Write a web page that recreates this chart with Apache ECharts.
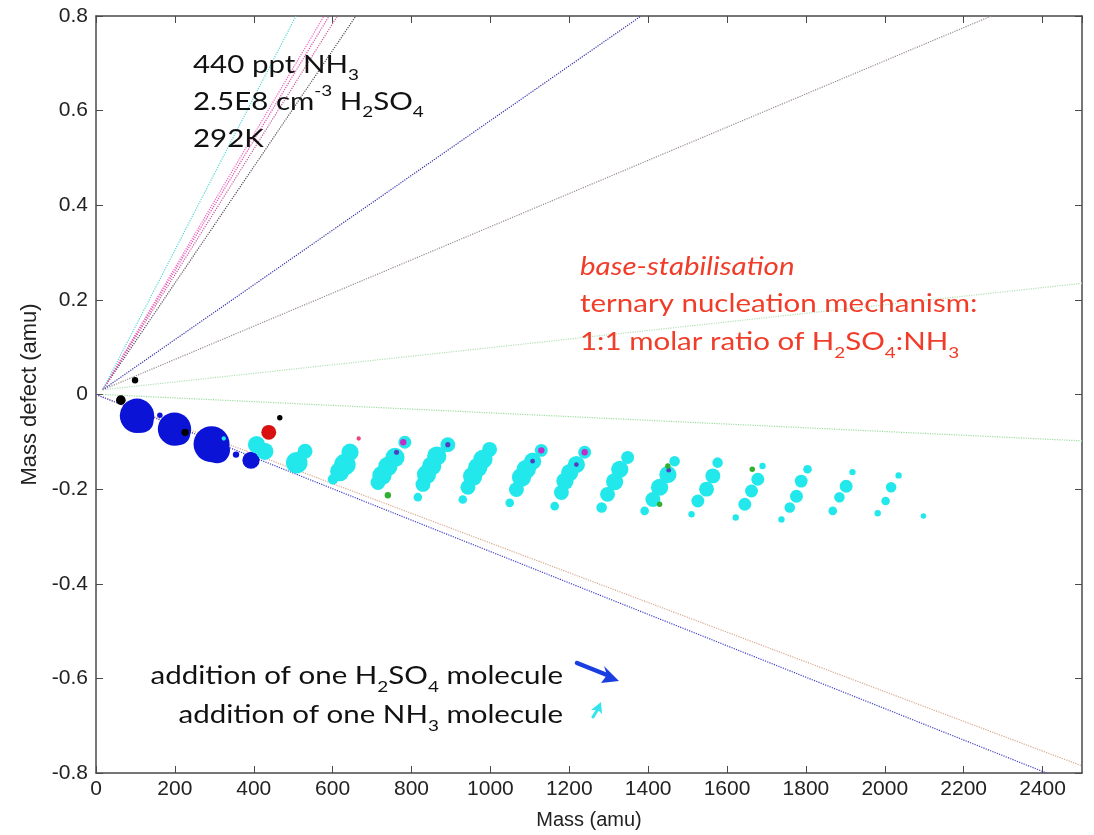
<!DOCTYPE html>
<html><head><meta charset="utf-8">
<script src="https://cdn.jsdelivr.net/npm/echarts@6/dist/echarts.min.js"></script>
<style>html,body{margin:0;padding:0;background:#fff}#c{width:1094px;height:835px}</style>
</head><body><div id="c"></div><script>
// ---- axis ranges ----
const MASS_MIN = 0, MASS_MAX = 2500, MASS_STEP = 200;
const DEF_MIN = -0.8, DEF_MAX = 0.8, DEF_STEP = 0.2;

// ---- peaks: [mass (amu), mass defect (amu), relative signal] ----
const blueClusters = [
  [104, -0.045, 64], [95, -0.037, 30], [116, -0.056, 30],
  [199, -0.073, 60], [190, -0.066, 25], [210, -0.083, 28],
  [293, -0.105, 70], [283, -0.096, 30], [307, -0.118, 36],
  [393, -0.139, 16],
  [162, -0.044, 1.6], [355, -0.127, 2.2]
];
const cyanClusters = [
  [324, -0.093, 1],
  [407, -0.106, 16], [428, -0.120, 16], [530, -0.120, 12], [509, -0.144, 25],
  [644, -0.122, 16], [631, -0.148, 25], [618, -0.163, 20], [601, -0.179, 6],
  [783, -0.101, 9], [758, -0.133, 20], [740, -0.152, 20], [725, -0.171, 20], [715, -0.186, 12],
  [892, -0.106, 12], [864, -0.130, 20], [851, -0.151, 20], [838, -0.169, 20], [829, -0.190, 12], [816, -0.217, 4],
  [998, -0.116, 12], [981, -0.137, 20], [968, -0.154, 20], [955, -0.173, 20], [943, -0.196, 12], [930, -0.222, 4],
  [1129, -0.118, 9], [1107, -0.141, 16], [1091, -0.158, 20], [1079, -0.175, 20], [1066, -0.201, 12], [1049, -0.229, 4],
  [1239, -0.122, 9], [1218, -0.148, 16], [1201, -0.165, 16], [1189, -0.183, 16], [1180, -0.207, 12], [1163, -0.236, 4],
  [1348, -0.133, 9], [1328, -0.158, 16], [1315, -0.184, 16], [1297, -0.211, 12], [1282, -0.239, 6],
  [1467, -0.141, 6], [1450, -0.169, 16], [1429, -0.196, 16], [1412, -0.222, 12], [1391, -0.246, 4],
  [1576, -0.144, 6], [1564, -0.172, 12], [1548, -0.200, 12], [1526, -0.225, 9], [1510, -0.253, 2.2],
  [1690, -0.151, 2.2], [1678, -0.179, 9], [1662, -0.204, 9], [1645, -0.232, 9], [1622, -0.260, 2.2],
  [1804, -0.158, 4], [1788, -0.183, 9], [1776, -0.215, 9], [1759, -0.239, 6], [1738, -0.264, 2.2],
  [1918, -0.164, 2.2], [1902, -0.194, 9], [1885, -0.217, 6], [1868, -0.246, 4],
  [2035, -0.171, 2.2], [2016, -0.196, 6], [2002, -0.225, 4], [1982, -0.251, 2.2],
  [2098, -0.257, 1.6]
];
const blackPeaks = [[63, -0.012, 5], [99, 0.030, 2.2], [226, -0.080, 3], [466, -0.049, 1.6]];
const redPeaks = [[438, -0.080, 12]];
const pinkPeaks = [[666, -0.093, 1]];
const magentaPeaks = [[779, -0.101, 2.2], [1129, -0.118, 2.2], [1239, -0.122, 2.2]];
const purplePeaks = [[762, -0.122, 1.4], [892, -0.106, 1.4], [1107, -0.141, 1.2], [1218, -0.148, 1.2], [1452, -0.160, 1.2]];
const greenPeaks = [[740, -0.213, 2.2], [1450, -0.151, 1.6], [1429, -0.232, 1.6], [1664, -0.158, 1.6]];

// ---- mass-defect guide lines: [start, end] as [mass, defect] ----
const lineCyan     = [[17, 0.01], [507, 0.80]];
const lineMagenta1 = [[17, 0.01], [578, 0.80]];
const lineMagenta2 = [[17, 0.01], [591, 0.80]];
const lineMagenta3 = [[17, 0.01], [612, 0.80]];
const lineDark     = [[17, 0.01], [659, 0.80]];
const lineBlueUp   = [[17, 0.01], [1382, 0.80]];
const lineGrey     = [[17, 0.01], [2270, 0.80]];
const lineGreenUp  = [[17, 0.01], [2500, 0.235]];
const lineGreenDn  = [[17, 0.00], [2500, -0.098]];
const lineBlueDn   = [[0, 0.00], [2410, -0.80]];
const lineOrangeDn = [[0, 0.00], [2500, -0.785]];

const sizeOf = v => 4.3 * Math.sqrt(v[2]);
const AX = '#4a4a4a';
const FONT = 'Liberation Sans, Arial, sans-serif';
const ANN = 'Lato, "Open Sans", sans-serif';
const STRETCH = 1.18;

function guide(data, color) {
  return { type: 'line', data, symbol: 'none', silent: true, z: 1,
    lineStyle: { type: 'dotted', width: 1.2, color } };
}
function peaks(data, color, z) {
  return { type: 'scatter', data, symbolSize: sizeOf, silent: true, z: z || 3,
    itemStyle: { color, opacity: 1 } };
}

const chart = echarts.init(document.getElementById('c'), null, { renderer: 'canvas' });
const sub = { fontFamily: ANN, fontSize: 16, lineHeight: 35, verticalAlign: 'bottom' };
const sup = { fontFamily: ANN, fontSize: 16, lineHeight: 25, verticalAlign: 'top' };

chart.setOption({
  animation: false,
  backgroundColor: '#ffffff',
  grid: { left: 96, right: 12, top: 16, bottom: 60 },
  xAxis: [
    { type: 'value', min: MASS_MIN, max: MASS_MAX, interval: MASS_STEP, position: 'bottom',
      name: 'Mass (amu)', nameLocation: 'middle', nameGap: 37,
      nameTextStyle: { fontFamily: FONT, fontSize: 20, color: '#222' },
      axisLine: { onZero: false, lineStyle: { color: AX, width: 1.5 } },
      axisTick: { inside: true, length: 7, lineStyle: { color: AX } },
      axisLabel: { fontFamily: FONT, fontSize: 21, color: '#222', margin: 6, showMaxLabel: false,
        formatter: v => String(v) },
      splitLine: { show: false } },
    { type: 'value', min: MASS_MIN, max: MASS_MAX, interval: MASS_STEP, position: 'top',
      axisLine: { onZero: false, lineStyle: { color: AX, width: 1.5 } },
      axisTick: { inside: true, length: 7, lineStyle: { color: AX } },
      axisLabel: { show: false }, splitLine: { show: false } }
  ],
  yAxis: [
    { type: 'value', min: DEF_MIN, max: DEF_MAX, interval: DEF_STEP, position: 'left',
      name: 'Mass defect (amu)', nameLocation: 'middle', nameGap: 51,
      nameTextStyle: { fontFamily: FONT, fontSize: 22, color: '#222' },
      axisLine: { onZero: false, lineStyle: { color: AX, width: 1.5 } },
      axisTick: { inside: true, length: 7, lineStyle: { color: AX } },
      axisLabel: { fontFamily: FONT, fontSize: 21, color: '#222', margin: 8 },
      splitLine: { show: false } },
    { type: 'value', min: DEF_MIN, max: DEF_MAX, interval: DEF_STEP, position: 'right',
      axisLine: { onZero: false, lineStyle: { color: AX, width: 1.5 } },
      axisTick: { inside: true, length: 7, lineStyle: { color: AX } },
      axisLabel: { show: false }, splitLine: { show: false } }
  ],
  series: [
    guide(lineGreenDn, '#9edc9e'),
    guide(lineGreenUp, '#b4e0b4'),
    guide(lineGrey, '#9a8c8c'),
    guide(lineBlueUp, '#3030a8'),
    guide(lineDark, '#5a4a5a'),
    guide(lineMagenta3, '#c85a9c'),
    guide(lineMagenta2, '#e04cae'),
    guide(lineMagenta1, '#f060c4'),
    guide(lineCyan, '#5ad8d8'),
    guide(lineOrangeDn, '#d8a88c'),
    guide(lineBlueDn, '#4040c8'),
    peaks(blueClusters, '#0b14d6', 2),
    peaks(cyanClusters, '#22e8ec', 2),
    peaks(redPeaks, '#d81010', 3),
    peaks(blackPeaks, '#000000', 4),
    peaks(pinkPeaks, '#ee4477', 4),
    peaks(magentaPeaks, '#c030c8', 4),
    peaks(purplePeaks, '#5040c0', 4),
    peaks(greenPeaks, '#30b030', 4)
  ],
  graphic: [
    { type: 'text', x: 193, y: 46, scaleX: STRETCH, z: 10, silent: true,
      style: { text: '440 ppt NH{sub|3}\n2.5E8 cm{sup|-3} H{sub|2}SO{sub|4}\n292K',
        fontFamily: ANN, fontSize: 25, lineHeight: 37, fill: '#111', verticalAlign: 'top',
        rich: { sub, sup } } },
    { type: 'text', x: 580, y: 248, scaleX: STRETCH, z: 10, silent: true,
      style: { text: '{it|base-stabilisation}\nternary nucleation mechanism:\n1:1 molar ratio of H{sub|2}SO{sub|4}:NH{sub|3}',
        fontFamily: ANN, fontSize: 25, lineHeight: 37.5, fill: '#f03c28', verticalAlign: 'top',
        rich: { it: { fontFamily: ANN, fontSize: 25, fontStyle: 'italic', lineHeight: 37.5 }, sub } } },
    { type: 'text', x: 563, y: 656, scaleX: STRETCH, z: 10, silent: true,
      style: { text: 'addition of one H{sub|2}SO{sub|4} molecule\naddition of one NH{sub|3} molecule',
        fontFamily: ANN, fontSize: 25, lineHeight: 39, fill: '#111', verticalAlign: 'top', align: 'right',
        rich: { sub } } },
    { type: 'polyline', z: 10, silent: true, shape: { points: [[577, 663], [607, 675]] },
      style: { stroke: '#1a3ee0', lineWidth: 4.5, lineCap: 'round' } },
    { type: 'polygon', z: 10, silent: true, shape: { points: [[619, 681], [601, 683], [607, 675], [604, 666]] },
      style: { fill: '#1a3ee0' } },
    { type: 'polyline', z: 10, silent: true, shape: { points: [[593, 717], [598, 709]] },
      style: { stroke: '#33e4ee', lineWidth: 3, lineCap: 'round' } },
    { type: 'polygon', z: 10, silent: true, shape: { points: [[601, 702], [602, 714], [598, 710], [591, 710]] },
      style: { fill: '#33e4ee' } }
  ]
});
</script></body></html>
